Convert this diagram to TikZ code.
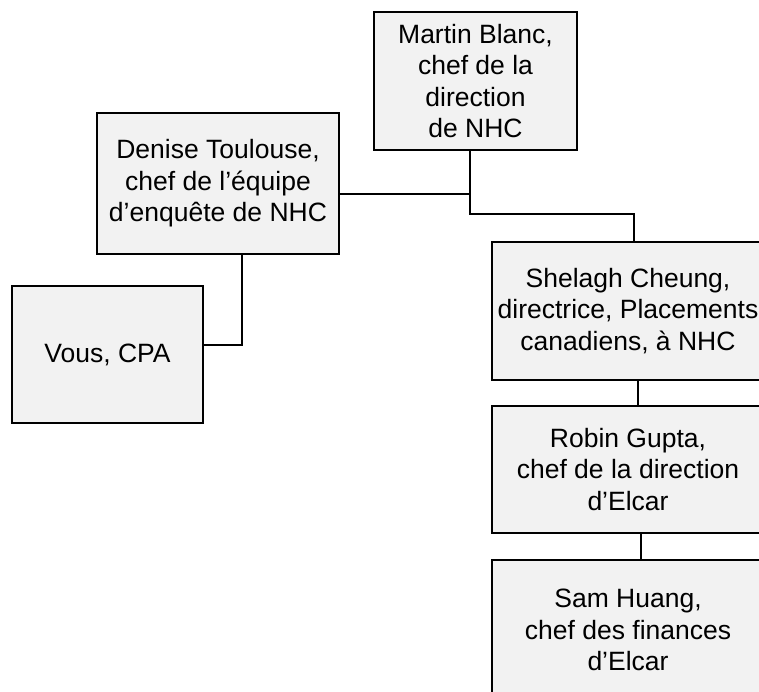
\documentclass[tikz,border=0pt]{standalone}
\usepackage{fontspec}
\setmainfont{Liberation Sans}
\definecolor{boxfill}{HTML}{F2F2F2}
\begin{document}
\begin{tikzpicture}[x=1pt,y=-1pt,
  orgbox/.style={draw=black, line width=2pt, fill=boxfill, inner sep=0pt,
    align=center, font=\fontsize{26.5}{31.5}\selectfont},
  link/.style={draw=black, line width=2pt}]
\useasboundingbox (0,0) rectangle (759,692);
\node[orgbox, minimum width=203pt, minimum height=138pt] (M) at (475.5,81) {Martin Blanc,\\chef de la\\direction\\de NHC};
\node[orgbox, minimum width=242pt, minimum height=141pt] (D) at (218,183.5) {Denise Toulouse,\\chef de l’équipe\\d’enquête de NHC};
\node[orgbox, minimum width=191pt, minimum height=137pt] (V) at (107.5,354.5) {Vous, CPA};
\node[orgbox, minimum width=272pt, minimum height=138pt] (S) at (628,311) {Shelagh Cheung,\\directrice, Placements\\canadiens, à NHC};
\node[orgbox, minimum width=272pt, minimum height=127pt] (R) at (628,469.5) {Robin Gupta,\\chef de la direction\\d’Elcar};
\node[orgbox, minimum width=272pt, minimum height=140pt] (H) at (628,630) {Sam Huang,\\chef des finances\\d’Elcar};
\coordinate (mj) at (470,194);
\draw[link] ([xshift=-5.5pt]M.south) -- ++(0,63) -| ([xshift=6pt]S.north);
\draw[link] ([yshift=-10.5pt]D.east) -- (mj);
\draw[link] ([xshift=24pt]D.south) |- ([yshift=9.5pt]V.east);
\draw[link] ([xshift=10pt]S.south) -- ([xshift=10pt]R.north);
\draw[link] ([xshift=13pt]R.south) -- ([xshift=13pt]H.north);
\end{tikzpicture}
\end{document}
